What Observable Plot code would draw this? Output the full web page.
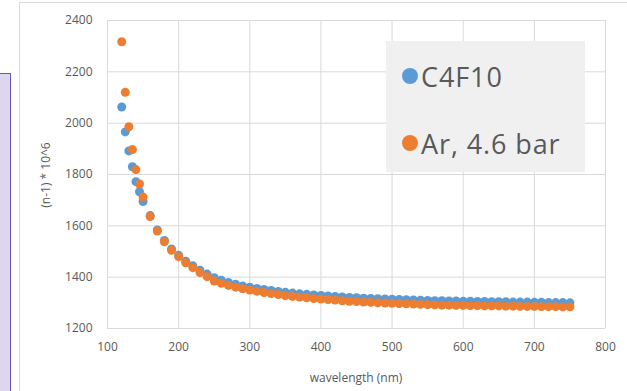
<!DOCTYPE html>
<html>
<head>
<meta charset="utf-8">
<script src="https://cdn.jsdelivr.net/npm/d3@7"></script>
<script src="https://cdn.jsdelivr.net/npm/@observablehq/plot@0.6"></script>
<style>
  html, body { margin: 0; padding: 0; background: #ffffff; }
  #wrap { position: relative; width: 627px; height: 391px; overflow: hidden; background: #ffffff; font-family: "Open Sans", sans-serif; }
  #chart { position: absolute; left: 0; top: 0; }
  .side { position: absolute; left: -2px; top: 73px; width: 13px; height: 330px; background: #dcd6ee; border: 1.5px solid #6a52c2; box-sizing: border-box; }
  .frame { position: absolute; left: 19px; top: 2px; width: 620px; height: 400px; border: 1px solid #d9d9d9; box-sizing: border-box; }
  .xtitle { position: absolute; left: 356px; top: 377px; transform: translate(-50%, -50%); font-size: 12px; color: #595959; white-space: nowrap; }
  .ytitle { position: absolute; left: 45px; top: 175px; transform: translate(-50%, -50%) rotate(-90deg); font-size: 12px; color: #595959; white-space: nowrap; }
  .legend { position: absolute; left: 386px; top: 41px; width: 199px; height: 131px; background: #f0f0f0; }
  .item { position: absolute; left: 16px; height: 34px; display: flex; align-items: center; font-size: 27px; letter-spacing: 0.9px; color: #595959; white-space: nowrap; }
  .sw { width: 16px; height: 16px; border-radius: 50%; margin-right: 3px; }
</style>
</head>
<body>
<div id="wrap">
  <div class="frame"></div>
  <div class="side"></div>
  <div id="chart"></div>
  <div class="xtitle">wavelength (nm)</div>
  <div class="ytitle">(n-1) * 10^6</div>
  <div class="legend" id="legend"></div>
</div>
<script>
// Series names and colours
const seriesNames = ["C4F10", "Ar, 4.6 bar"];
const seriesColors = ["#5b9bd5", "#ed7d31"];

// Tick labels
const xTicks = [100, 200, 300, 400, 500, 600, 700, 800];
const yTicks = [1200, 1400, 1600, 1800, 2000, 2200, 2400];

// C4F10 (blue)
const c4f10Wavelength = [120, 125, 130, 135, 140, 145, 150, 160, 170, 180, 190, 200, 210, 220, 230, 240, 250, 260, 270, 280, 290, 300, 310, 320, 330, 340, 350, 360, 370, 380, 390, 400, 410, 420, 430, 440, 450, 460, 470, 480, 490, 500, 510, 520, 530, 540, 550, 560, 570, 580, 590, 600, 610, 620, 630, 640, 650, 660, 670, 680, 690, 700, 710, 720, 730, 740, 750];
const c4f10Value = [2063, 1966, 1892, 1830, 1772, 1733, 1695, 1640, 1584, 1543, 1510, 1485, 1462, 1444, 1427, 1412, 1398, 1388, 1379, 1372, 1366, 1361, 1356, 1352, 1348, 1344, 1341, 1338, 1335, 1333, 1331, 1329, 1327, 1325, 1323, 1321, 1320, 1318, 1317, 1316, 1315, 1314, 1313, 1312, 1311, 1310, 1309, 1308, 1308, 1307, 1307, 1306, 1306, 1305, 1305, 1304, 1304, 1304, 1303, 1303, 1303, 1302, 1302, 1301, 1301, 1301, 1300];

// Ar, 4.6 bar (orange)
const arWavelength = [120, 125, 130, 135, 140, 145, 150, 160, 170, 180, 190, 200, 210, 220, 230, 240, 250, 260, 270, 280, 290, 300, 310, 320, 330, 340, 350, 360, 370, 380, 390, 400, 410, 420, 430, 440, 450, 460, 470, 480, 490, 500, 510, 520, 530, 540, 550, 560, 570, 580, 590, 600, 610, 620, 630, 640, 650, 660, 670, 680, 690, 700, 710, 720, 730, 740, 750];
const arValue = [2317, 2120, 1986, 1897, 1819, 1763, 1712, 1636, 1580, 1538, 1505, 1480, 1456, 1437, 1418, 1402, 1385, 1376, 1368, 1361, 1355, 1350, 1345, 1340, 1336, 1332, 1328, 1325, 1322, 1320, 1317, 1315, 1313, 1311, 1308, 1306, 1305, 1303, 1302, 1300, 1299, 1298, 1297, 1296, 1295, 1294, 1293, 1292, 1291, 1291, 1290, 1290, 1289, 1289, 1288, 1288, 1288, 1287, 1287, 1286, 1286, 1286, 1285, 1285, 1285, 1284, 1284];

const c4f10 = c4f10Wavelength.map((w, i) => ({w, v: c4f10Value[i]}));
const ar = arWavelength.map((w, i) => ({w, v: arValue[i]}));

const chart = Plot.plot({
  width: 627,
  height: 391,
  marginLeft: 107,
  marginRight: 22,
  marginTop: 20,
  marginBottom: 63,
  style: {fontFamily: "Open Sans, sans-serif", fontSize: "12px", color: "#595959", background: "transparent", overflow: "visible"},
  x: {domain: [100, 800]},
  y: {domain: [1200, 2400]},
  marks: [
    Plot.gridX(xTicks, {stroke: "#d9d9d9", strokeOpacity: 1, strokeWidth: 1}),
    Plot.gridY(yTicks, {stroke: "#d9d9d9", strokeOpacity: 1, strokeWidth: 1}),
    Plot.axisX(xTicks, {tickSize: 0, tickPadding: 14, tickFormat: "d", label: null, fill: "#595959"}),
    Plot.axisY(yTicks, {tickSize: 0, tickPadding: 15, tickFormat: "d", label: null, fill: "#595959"}),
    Plot.dot(c4f10, {x: "w", y: "v", r: 4.5, fill: seriesColors[0], stroke: null}),
    Plot.dot(ar, {x: "w", y: "v", r: 4.5, fill: seriesColors[1], stroke: null})
  ]
});
document.getElementById("chart").appendChild(chart);

const legend = document.getElementById("legend");
seriesNames.forEach((name, i) => {
  const item = document.createElement("div");
  item.className = "item";
  item.style.top = (i === 0 ? 18 : 85) + "px";
  const sw = document.createElement("div");
  sw.className = "sw";
  sw.style.background = seriesColors[i];
  const t = document.createElement("span");
  t.textContent = name;
  item.appendChild(sw);
  item.appendChild(t);
  legend.appendChild(item);
});
</script>
</body>
</html>
